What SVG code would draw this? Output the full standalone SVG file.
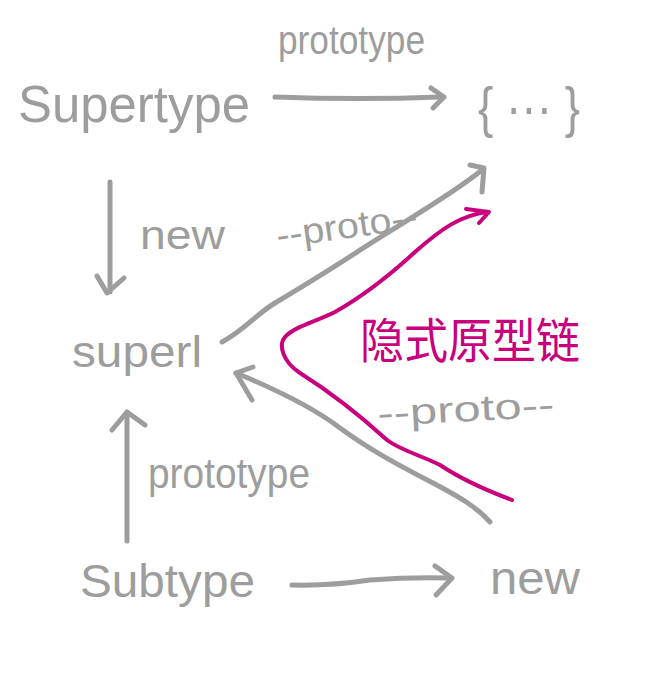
<svg xmlns="http://www.w3.org/2000/svg" width="659" height="676" viewBox="0 0 659 676">
<style>
.g{fill:none;stroke:#9d9d9d;stroke-width:5;stroke-linecap:round;stroke-linejoin:round}
.m{fill:none;stroke:#c8007e;stroke-width:4;stroke-linecap:round;stroke-linejoin:round}
.t{font-family:"Liberation Sans","Noto Sans",sans-serif;fill:#9d9d9d}
.c{font-family:"Noto Sans CJK SC",sans-serif;fill:#c8007e}
</style>
<rect width="659" height="676" fill="#ffffff"/>
<g id="supertype"><text class="t" x="18" y="122" font-size="52" textLength="232" lengthAdjust="spacingAndGlyphs">Supertype</text></g>
<g id="proto-obj"><text class="t" x="478" y="126" font-size="56" textLength="102" lengthAdjust="spacingAndGlyphs">{ ··· }</text></g>
<g id="super1"><text class="t" x="72" y="367" font-size="44" textLength="130" lengthAdjust="spacingAndGlyphs">superl</text></g>
<g id="subtype"><text class="t" x="80" y="597" font-size="46" textLength="175" lengthAdjust="spacingAndGlyphs">Subtype</text></g>
<g id="new-bottom"><text class="t" x="490" y="594" font-size="46" textLength="90" lengthAdjust="spacingAndGlyphs">new</text></g>
<g id="chain-label"><text class="c" x="360" y="358" font-size="48" textLength="220" lengthAdjust="spacingAndGlyphs">隐式原型链</text></g>
<g id="connectors">
<path class="g" d="M275 97 Q360 100 440 97"/>
<path class="g" d="M431 88 L444 97 L433 108"/>
<text class="t" x="278" y="54" font-size="40" textLength="147" lengthAdjust="spacingAndGlyphs">prototype</text>
<path class="g" d="M110 182 L110 292"/>
<path class="g" d="M97 276 L107 293 L124 278"/>
<text class="t" x="140" y="249" font-size="40" textLength="85" lengthAdjust="spacingAndGlyphs">new</text>
<path class="g" d="M222 342 C245 330 255 315 275 303 C300 288 330 270 360 250 C400 224 450 196 482 170"/>
<path class="g" d="M470 165 L484 168 L482 192"/>
<text class="t" x="278" y="248" font-size="36" textLength="142" lengthAdjust="spacingAndGlyphs" transform="rotate(-8 278 248)">--proto--</text>
<path class="g" d="M490 522 C475 505 455 495 433 483 C400 466 370 450 340 428 C310 405 270 387 236 373"/>
<path class="g" d="M252 400 L236 373 L253 367"/>
<text class="t" x="378" y="426" font-size="36" textLength="177" lengthAdjust="spacingAndGlyphs" transform="rotate(-3 378 426)">--proto--</text>
<path class="g" d="M127 541 L127 412"/>
<path class="g" d="M112 430 L127 412 L145 425"/>
<text class="t" x="148" y="488" font-size="42" textLength="162" lengthAdjust="spacingAndGlyphs">prototype</text>
<path class="g" d="M292 585 Q330 586 370 580 Q410 577 450 578"/>
<path class="g" d="M435 566 L452 578 L436 595"/>
<path class="m" d="M512 500 C480 488 455 475 440 465 C420 455 400 450 387 440 C365 420 335 395 300 373 C283 362 278 345 285 337 C295 326 320 320 335 312 C365 295 390 275 415 252 C440 230 460 215 488 212"/>
<path class="m" d="M466 209 L489 212 L479 223"/>
</g>
</svg>
